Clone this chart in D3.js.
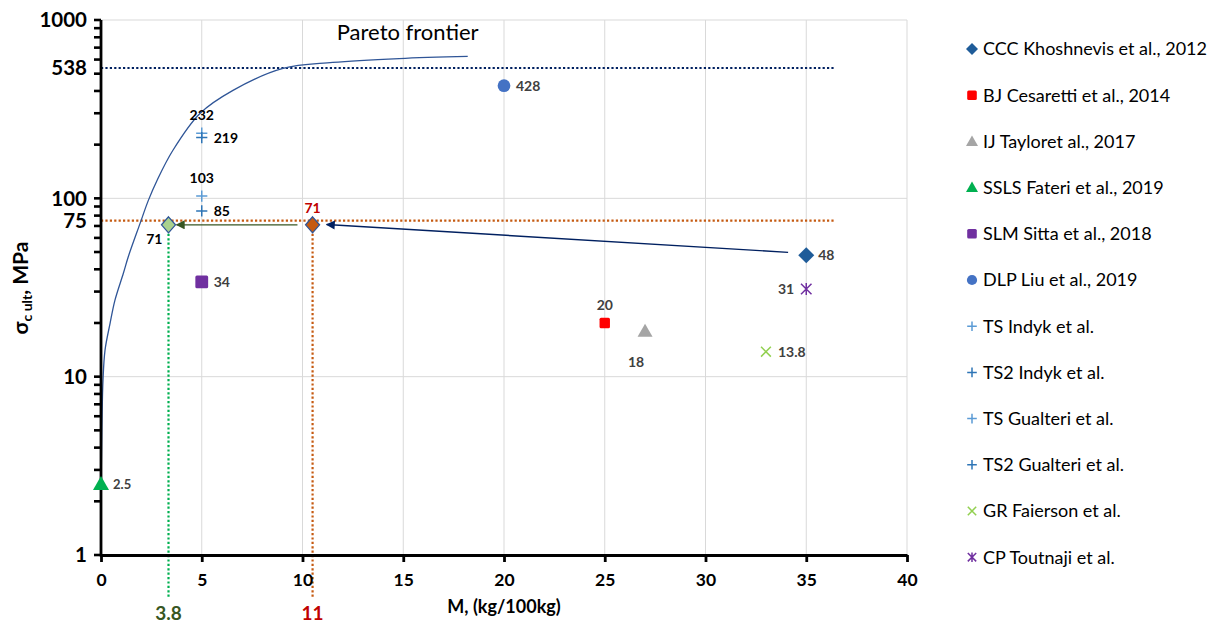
<!DOCTYPE html>
<html><head><meta charset="utf-8">
<script src="https://cdn.jsdelivr.net/npm/d3@7"></script>
<style>
body{margin:0;background:#fff;}
svg{font-family:Lato,"Liberation Sans",sans-serif;}
</style></head>
<body><svg id="c" width="1222" height="624"></svg>
<script>
// ---------- data ----------
const seriesNames = ["CCC Khoshnevis et al., 2012","BJ Cesaretti et al., 2014","IJ Tayloret al., 2017",
  "SSLS Fateri et al., 2019","SLM Sitta et al., 2018","DLP Liu et al., 2019","TS Indyk et al.",
  "TS2 Indyk et al.","TS Gualteri et al.","TS2 Gualteri et al.","GR Faierson et al.","CP Toutnaji et al."];
const seriesX = [35, 25, 27, 0, 5, 20, 5, 5, 5, 5, 33, 35];
const seriesY = [48, 20, 18, 2.5, 34, 428, 232, 219, 103, 85, 13.8, 31];
const seriesLabels = ["48","20","18","2.5","34","428","232","219","103","85","13.8","31"];
const labelSide = ["right","above","below","right","right","right","above","right","above","right","right","left"];
const seriesShape = ["diamond","square","triangle","triangle","square","circle","plus","plus","plus","plus","x","asterisk"];
const seriesColor = ["#1f5c99","#ff0000","#a5a5a5","#00b050","#7030a0","#4472c4","#5b9bd5","#2e75b6","#5b9bd5","#2e75b6","#92d050","#7030a0"];
const labelColor = ["#404040","#404040","#404040","#404040","#404040","#404040","#000","#000","#000","#000","#404040","#404040"];

// highlighted design points
const hlX = [3.35, 10.5];
const hlY = [71, 71];
const hlLabels = ["71", "71"];
const hlAxisLabels = ["3.8", "11"];

// Pareto frontier
const paretoX = [0, 0.015, 0.05, 0.1, 0.2, 0.45, 0.69, 1.11, 1.35, 1.94, 2.35, 2.78, 3.57, 4.91, 6.55, 9.03, 11.5, 14.8, 18.2];
const paretoY = [1, 3, 5.7, 9.6, 14.1, 19.9, 26.8, 38, 46.9, 72.4, 97.4, 126, 186, 299, 403, 535, 578, 608, 625];

// reference levels
const refLevels = [538, 75];
const refEndX = 36.4;

// arrows
const arrowX1 = [34.1, 9.75];
const arrowY1 = [49.8, 71];
const arrowX2 = [11.2, 3.75];
const arrowY2 = [71.3, 71];

const xTicks = [0,5,10,15,20,25,30,35,40];
const yTickLabels = [1,10,75,100,538,1000];

// ---------- chart ----------
const svg = d3.select("#c");
const x = d3.scaleLinear([0,40],[101,907]);
const y = d3.scaleLog([1,1000],[555,20]);

// grid
const g = svg.append("g");
g.selectAll(".vg").data(xTicks.slice(1)).join("line")
  .attr("x1",d=>x(d)).attr("x2",d=>x(d)).attr("y1",y(1000)).attr("y2",y(1))
  .attr("stroke","#d9d9d9").attr("stroke-width",1);
g.selectAll(".hg").data([10,100,1000]).join("line")
  .attr("x1",x(0)).attr("x2",x(40)).attr("y1",d=>y(d)).attr("y2",d=>y(d))
  .attr("stroke","#d9d9d9").attr("stroke-width",1);

// reference dotted lines
svg.append("line").attr("x1",x(0)).attr("x2",x(refEndX)).attr("y1",y(refLevels[0])).attr("y2",y(refLevels[0]))
  .attr("stroke","#002060").attr("stroke-width",2.2).attr("stroke-dasharray","2.2 2.2");
svg.append("line").attr("x1",x(0)).attr("x2",x(refEndX)).attr("y1",y(refLevels[1])).attr("y2",y(refLevels[1]))
  .attr("stroke","#c55a11").attr("stroke-width",2.2).attr("stroke-dasharray","2.2 2.2");
const vColors = ["#00b050","#c55a11"];
const yBelow = y(1) + 42;
hlX.forEach((v,i)=>{
  svg.append("line").attr("x1",x(v)).attr("x2",x(v)).attr("y1",y(refLevels[1])).attr("y2",yBelow)
    .attr("stroke",vColors[i]).attr("stroke-width",2.2).attr("stroke-dasharray","2.2 2.2");
});

// pareto
const pdata = paretoX.map((v,i)=>[v,paretoY[i]]);
svg.append("path").datum(pdata)
  .attr("d", d3.line().x(d=>x(d[0])).y(d=>y(d[1])).curve(d3.curveCatmullRom.alpha(0.5)))
  .attr("fill","none").attr("stroke","#2f5597").attr("stroke-width",1.3);
svg.append("text").attr("x",x(11.7)).attr("y",y(770)).attr("font-size",22).attr("fill","#000").text("Pareto frontier");

// arrows
const defs = svg.append("defs");
const arrowColors = ["#002060","#375623"];
arrowColors.forEach((c,i)=>{
  defs.append("marker").attr("id","ah"+i).attr("viewBox","0 0 10 10").attr("refX",9).attr("refY",5)
    .attr("markerUnits","userSpaceOnUse").attr("markerWidth",10).attr("markerHeight",9).attr("orient","auto")
    .append("path").attr("d","M0,0 L10,5 L0,10 Z").attr("fill",c);
});
arrowX1.forEach((v,i)=>{
  svg.append("line").attr("x1",x(v)).attr("y1",y(arrowY1[i])).attr("x2",x(arrowX2[i])).attr("y2",y(arrowY2[i]))
    .attr("stroke",arrowColors[i]).attr("stroke-width",1.4).attr("marker-end",`url(#ah${i})`);
});

// axes
const ax = svg.append("g").attr("transform",`translate(0,${y(1)})`)
  .call(d3.axisBottom(x).tickValues(xTicks).tickSize(7).tickSizeOuter(0).tickPadding(12));
ax.select(".domain").attr("stroke","#000").attr("stroke-width",2.8);
ax.selectAll(".tick line").attr("stroke","#000").attr("stroke-width",2.8);
ax.selectAll(".tick text").attr("font-size",17.5).attr("font-weight","bold").attr("fill","#000").attr("font-family","Lato,sans-serif");

// y axis line
svg.append("line").attr("x1",x(0)).attr("x2",x(0)).attr("y1",y(1000)).attr("y2",y(1)+1.4)
  .attr("stroke","#000").attr("stroke-width",2.8);
const yt = [];
[1,10,100].forEach(d=>{for(let k=1;k<10;k++) yt.push(k*d);});
yt.push(1000);
svg.selectAll(".yt").data(yt).join("line")
  .attr("x1",x(0)-7).attr("x2",x(0)).attr("y1",d=>y(d)).attr("y2",d=>y(d))
  .attr("stroke","#000").attr("stroke-width",2.6);
svg.selectAll(".ytl").data(yTickLabels).join("text")
  .attr("x",x(0)-14).attr("y",d=>y(d)).attr("dy","0.35em").attr("text-anchor","end")
  .attr("font-size",20.5).attr("font-weight","bold").text(d=>d);

// axis titles
svg.append("text").attr("x",(x(0)+x(40))/2).attr("y",y(1)+58).attr("text-anchor","middle")
  .attr("font-size",18).attr("font-weight","bold").text("M, (kg/100kg)");
const yl = svg.append("text").attr("transform","translate(28,288) rotate(-90)").attr("text-anchor","middle")
  .attr("font-size",21).attr("font-weight","bold");
yl.append("tspan").text("σ");
yl.append("tspan").attr("font-size",14).attr("dy",4).text("c ult");
yl.append("tspan").attr("dy",-4).text(", MPa");

// highlight axis labels
const hlAxColors = ["#375623","#c00000"];
hlX.forEach((v,i)=>{
  svg.append("text").attr("x",x(v)).attr("y",y(1)+65).attr("text-anchor","middle")
    .attr("font-size",19).attr("font-weight","bold").attr("fill",hlAxColors[i]).text(hlAxisLabels[i]);
});

// symbols
function drawSymbol(sel, shape, color, s){
  if(shape==="diamond"){ sel.append("path").attr("d",`M0,${-s}L${s},0L0,${s}L${-s},0Z`).attr("fill",color); }
  else if(shape==="square"){ sel.append("rect").attr("x",-s*0.8).attr("y",-s*0.8).attr("width",s*1.6).attr("height",s*1.6).attr("rx",1.5).attr("fill",color); }
  else if(shape==="triangle"){ sel.append("path").attr("d",`M0,${-s}L${s},${s*0.75}L${-s},${s*0.75}Z`).attr("fill",color); }
  else if(shape==="circle"){ sel.append("circle").attr("r",s*0.85).attr("fill",color); }
  else if(shape==="plus"){ sel.append("path").attr("d",`M${-s*0.8},0H${s*0.8}M0,${-s*0.8}V${s*0.8}`).attr("stroke",color).attr("stroke-width",1.5); }
  else if(shape==="x"){ sel.append("path").attr("d",`M${-s*0.7},${-s*0.7}L${s*0.7},${s*0.7}M${-s*0.7},${s*0.7}L${s*0.7},${-s*0.7}`).attr("stroke",color).attr("stroke-width",1.5); }
  else if(shape==="asterisk"){ sel.append("path").attr("d",`M${-s*0.7},${-s*0.7}L${s*0.7},${s*0.7}M${-s*0.7},${s*0.7}L${s*0.7},${-s*0.7}M0,${-s*0.8}V${s*0.8}`).attr("stroke",color).attr("stroke-width",1.5); }
}
const symSize = [8,6.5,7.5,8,8,7.5,7,7,7,7,7,7.5];
seriesX.forEach((v,i)=>{
  const gg = svg.append("g").attr("transform",`translate(${x(v)},${y(seriesY[i])})`);
  drawSymbol(gg, seriesShape[i], seriesColor[i], symSize[i]);
  let tx=0, ty=0, anchor="start";
  if(labelSide[i]==="right"){tx=12; ty=5;}
  if(labelSide[i]==="left"){tx=-12; ty=5; anchor="end";}
  if(labelSide[i]==="above"){tx=0; ty=-13; anchor="middle";}
  if(labelSide[i]==="below"){tx=-9; ty=36; anchor="middle";}
  gg.append("text").attr("x",tx).attr("y",ty).attr("text-anchor",anchor)
    .attr("font-size", seriesLabels[i]==="2.5"?13:14).attr("font-weight","bold").attr("fill",labelColor[i]).text(seriesLabels[i]);
});

// highlighted diamonds
const hlFill = ["#a9d18e","#c55a11"];
hlX.forEach((v,i)=>{
  const gg = svg.append("g").attr("transform",`translate(${x(v)},${y(hlY[i])})`);
  gg.append("path").attr("d","M0,-8L7,0L0,8L-7,0Z").attr("fill",hlFill[i]).attr("stroke","#2f5597").attr("stroke-width",1.3);
  if(i===0) gg.append("text").attr("x",-6).attr("y",19).attr("text-anchor","end").attr("font-size",14).attr("font-weight","bold").attr("fill","#000").text(hlLabels[i]);
  else gg.append("text").attr("x",0).attr("y",-12).attr("text-anchor","middle").attr("font-size",14).attr("font-weight","bold").attr("fill","#c00000").text(hlLabels[i]);
});

// legend
const lg = svg.append("g");
seriesNames.forEach((n,i)=>{
  const yy = 49 + i*46.2;
  const gg = lg.append("g").attr("transform",`translate(972,${yy})`);
  drawSymbol(gg, seriesShape[i], seriesColor[i], 6);
  gg.append("text").attr("x",11).attr("y",0).attr("dy","0.35em").attr("font-size",18).attr("fill","#000").text(n);
});
</script></body></html>
